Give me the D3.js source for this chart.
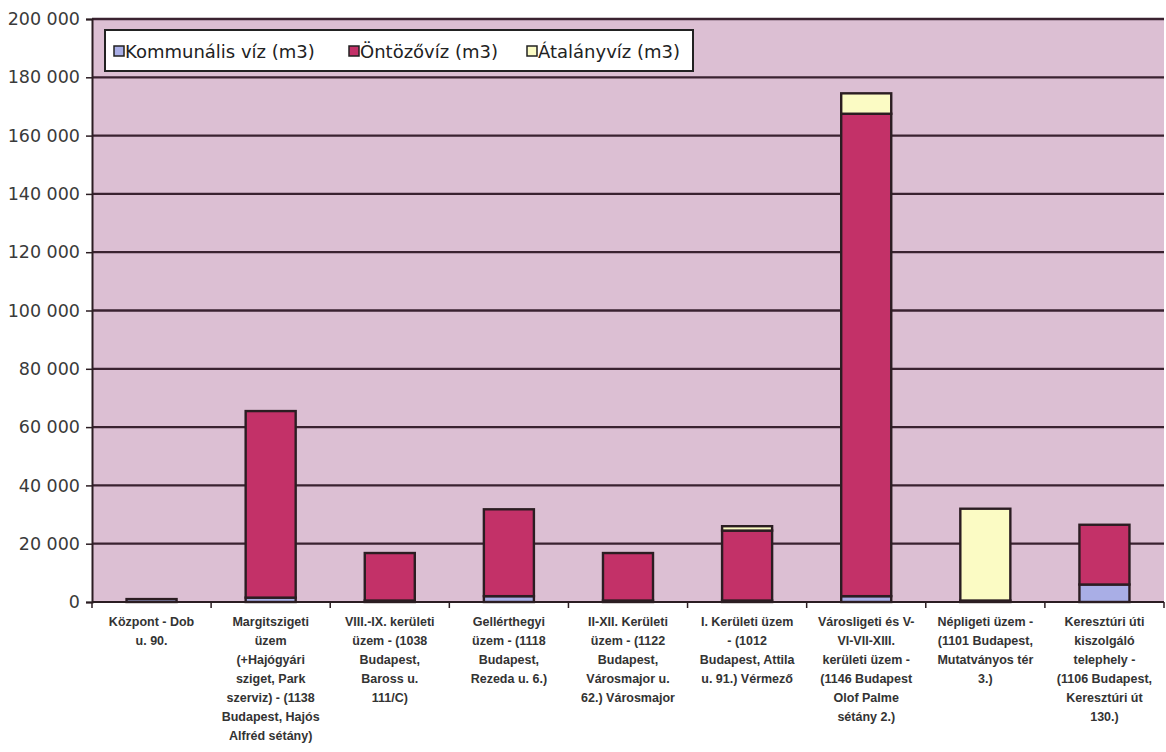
<!DOCTYPE html>
<html><head><meta charset="utf-8">
<script src="https://cdn.jsdelivr.net/npm/d3@7"></script>
<style>body{margin:0;background:#fff;} svg{display:block}</style>
</head><body>
<svg id="chart" width="1166" height="752"></svg>
<script>
const categories = [
  "Központ - Dob\nu. 90.",
  "Margitszigeti\nüzem\n(+Hajógyári\nsziget, Park\nszerviz) - (1138\nBudapest, Hajós\nAlfréd sétány)",
  "VIII.-IX. kerületi\nüzem - (1038\nBudapest,\nBaross u.\n111/C)",
  "Gellérthegyi\nüzem - (1118\nBudapest,\nRezeda u. 6.)",
  "II-XII. Kerületi\nüzem - (1122\nBudapest,\nVárosmajor u.\n62.) Városmajor",
  "I. Kerületi üzem\n- (1012\nBudapest, Attila\nu. 91.) Vérmező",
  "Városligeti és V-\nVI-VII-XIII.\nkerületi üzem -\n(1146 Budapest\nOlof Palme\nsétány 2.)",
  "Népligeti üzem -\n(1101 Budapest,\nMutatványos tér\n3.)",
  "Keresztúri úti\nkiszolgáló\ntelephely -\n(1106 Budapest,\nKeresztúri út\n130.)"
];
const seriesNames = ["Kommunális víz (m3)", "Öntözővíz (m3)", "Átalányvíz (m3)"];
const kommunalis = [1000, 1500, 500, 2000, 500, 500, 2000, 500, 6000];
const ontozoviz  = [0, 64000, 16300, 29800, 16300, 24000, 165500, 0, 20500];
const atalanyviz = [0, 0, 0, 0, 0, 1500, 7000, 31500, 0];
const yTicks = [0, 20000, 40000, 60000, 80000, 100000, 120000, 140000, 160000, 180000, 200000];
const colors = ["#a9aee6", "#c33168", "#fbfbc4"];

const svg = d3.select("#chart");
const L = 92, R = 1164, T = 19, B = 602;
const x = d3.scaleBand().domain(d3.range(categories.length)).range([L, R])
  .paddingInner(0.58).paddingOuter(0.29);
const y = d3.scaleLinear().domain([0, 200000]).range([B, T]);
const loc = d3.formatLocale({decimal: ",", thousands: " ", grouping: [3], currency: ["", ""]});
const fmt = loc.format(",d");

// plot background
svg.append("rect").attr("x", L).attr("y", T).attr("width", R - L).attr("height", B - T)
  .attr("fill", "#dcbfd3");

// gridlines
svg.append("g").selectAll("line").data(yTicks.filter(d => d > 0)).join("line")
  .attr("x1", L).attr("x2", R).attr("y1", d => y(d)).attr("y2", d => y(d))
  .attr("stroke", "#3a2230").attr("stroke-width", 2.3);

// stacked bars
const table = categories.map((c, i) => ({i, k: kommunalis[i], o: ontozoviz[i], a: atalanyviz[i]}));
const stacked = d3.stack().keys(["k", "o", "a"])(table);
svg.append("g").selectAll("g").data(stacked).join("g")
  .attr("fill", (d, i) => colors[i])
  .selectAll("rect").data(d => d.filter(s => s[1] - s[0] > 0)).join("rect")
  .attr("x", d => x(d.data.i)).attr("width", x.bandwidth())
  .attr("y", d => y(d[1])).attr("height", d => y(d[0]) - y(d[1]))
  .attr("stroke", "#2b1d22").attr("stroke-width", 2.4);

// y axis
const yAxis = svg.append("g").attr("transform", `translate(${L},0)`)
  .call(d3.axisLeft(y).tickValues(yTicks).tickFormat(fmt).tickSize(6).tickPadding(6));
yAxis.select(".domain").attr("stroke", "#2b1d22").attr("stroke-width", 2);
yAxis.selectAll(".tick line").attr("stroke", "#2b1d22").attr("stroke-width", 1.5);
yAxis.selectAll(".tick text").attr("font-family", "DejaVu Sans").attr("font-size", 17.5)
  .attr("fill", "#3a3a3a");

// x axis baseline and boundary ticks
svg.append("line").attr("x1", L).attr("x2", R).attr("y1", B).attr("y2", B)
  .attr("stroke", "#2b1d22").attr("stroke-width", 2);
const gap = (x.step() - x.bandwidth()) / 2;
const bounds = d3.range(categories.length + 1).map(i => i < categories.length ? x(i) - gap : x(i - 1) + x.bandwidth() + gap);
svg.append("g").selectAll("line").data(bounds).join("line")
  .attr("x1", d => d).attr("x2", d => d).attr("y1", B).attr("y2", B + 6)
  .attr("stroke", "#2b1d22").attr("stroke-width", 1.5);

// category labels
const lab = svg.append("g").attr("font-family", "Liberation Sans").attr("font-weight", "bold")
  .attr("font-size", 12.5).attr("fill", "#333").attr("text-anchor", "middle");
categories.forEach((c, i) => {
  const t = lab.append("text").attr("x", x(i) + x.bandwidth() / 2).attr("y", 626);
  c.split("\n").forEach((line, j) => {
    t.append("tspan").attr("x", x(i) + x.bandwidth() / 2).attr("dy", j === 0 ? 0 : 19).text(line);
  });
});

// legend
const lg = svg.append("g");
lg.append("rect").attr("x", 105).attr("y", 30).attr("width", 588).attr("height", 41)
  .attr("fill", "#fff").attr("stroke", "#222").attr("stroke-width", 2);
const legX = [114, 349, 527];
seriesNames.forEach((n, i) => {
  lg.append("rect").attr("x", legX[i]).attr("y", 46).attr("width", 10).attr("height", 10)
    .attr("fill", colors[i]).attr("stroke", "#222").attr("stroke-width", 1.5);
  lg.append("text").attr("x", legX[i] + 11).attr("y", 57.5).attr("font-family", "DejaVu Sans")
    .attr("font-size", 18).attr("fill", "#222").text(n);
});
</script>
</body></html>
